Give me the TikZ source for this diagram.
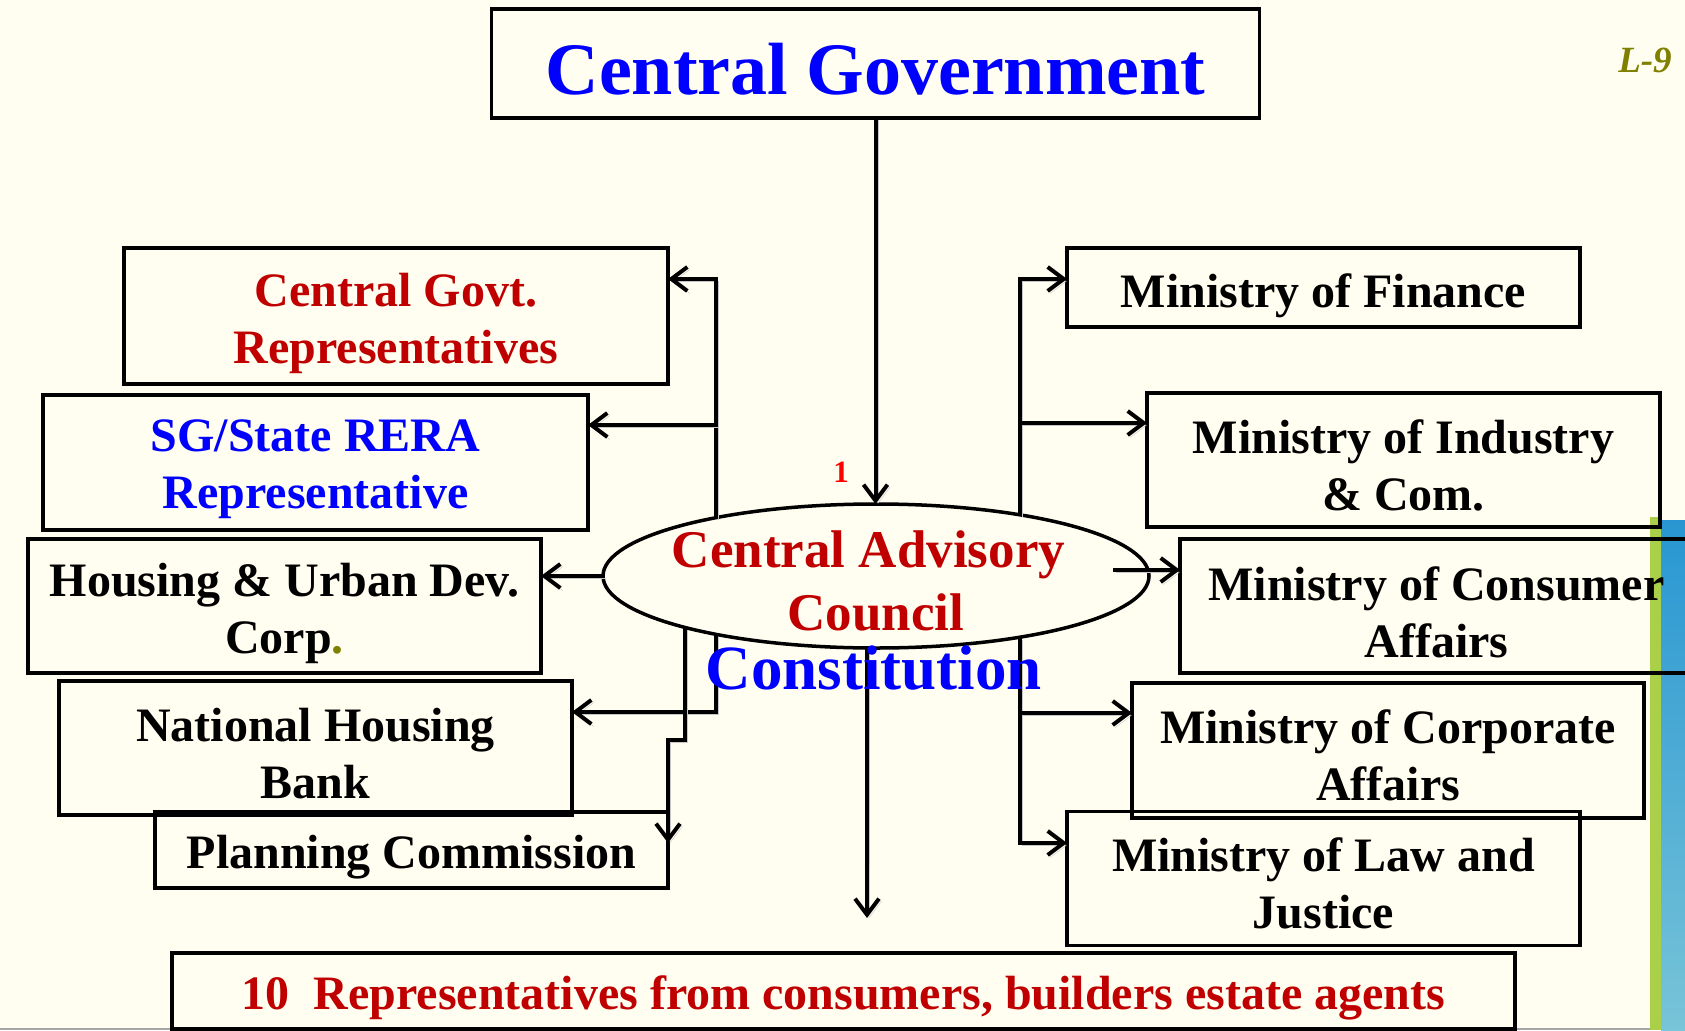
\documentclass[tikz,border=0pt]{standalone}
\usepackage{fontspec}
\setmainfont{Liberation Serif}
\usetikzlibrary{arrows.meta,shapes.geometric,calc}
\definecolor{bgcream}{RGB}{255,254,240}
\definecolor{darkred}{RGB}{192,0,0}
\definecolor{pureblue}{RGB}{0,0,255}
\definecolor{brightred}{RGB}{255,0,0}
\definecolor{olivec}{RGB}{128,128,0}
\definecolor{stripegreen}{RGB}{170,208,74}
\definecolor{stripeblue}{RGB}{40,150,210}
\definecolor{stripelight}{RGB}{236,240,196}
\definecolor{stripebot}{RGB}{120,196,216}
\begin{document}
\begin{tikzpicture}[x=1pt,y=-1pt,
  box/.style={draw=black, line width=3.5pt, rectangle, inner sep=0pt, outer sep=0pt},
  txt/.style={font=\bfseries\fontsize{48}{57}\selectfont, align=center, inner sep=0pt},
  conn/.style={line width=4pt, -{Straight Barb[length=16pt,width=24pt,line width=4pt]},
    preaction={draw=black!22, transform canvas={shift={(2.5pt,-2.5pt)}}}}
]
\useasboundingbox[fill=bgcream] (0,0) rectangle (1685,1030);
% right decorative stripes
\fill[stripegreen] (1650,517) rectangle (1661,1030);
\shade[top color=stripeblue, middle color=stripelight, bottom color=stripebot] (1661,520) rectangle (1685,1030);
\draw[black!35, line width=2pt] (0,1029) -- (1650,1029);

% boxes
\node[box, minimum width=768pt, minimum height=109pt] (cg) at (875.5,63.5) {};
\node[box, minimum width=544pt, minimum height=136pt] (cgr) at (396,316) {};
\node[box, minimum width=545pt, minimum height=135pt] (sg) at (315.5,462.5) {};
\node[box, minimum width=513pt, minimum height=134pt] (hud) at (284.5,606) {};
\node[box, minimum width=513pt, minimum height=134pt] (nhb) at (315.5,748) {};
\node[box, minimum width=513pt, minimum height=76pt] (pc) at (411.5,850) {};
\node[box, minimum width=1343pt, minimum height=76pt] (bot) at (843.5,991) {};
\node[box, minimum width=513pt, minimum height=79pt] (fin) at (1323.5,287.5) {};
\node[box, minimum width=513pt, minimum height=134pt] (ind) at (1403.5,460) {};
\node[box, minimum width=513pt, minimum height=134pt] (con) at (1436.5,606) {};
\node[box, minimum width=512pt, minimum height=135pt] (corp) at (1388,750.5) {};
\node[box, minimum width=513pt, minimum height=134pt] (law) at (1323.5,878.5) {};
\node[draw=black, ellipse, line width=3.5pt, minimum width=546pt, minimum height=144pt, inner sep=0pt, outer sep=0pt] (ell) at (876,576) {};

% texts
\node[txt, font=\bfseries\fontsize{74}{80}\selectfont, text=pureblue] (cgT) at ([yshift=-6pt]cg.center) {Central Government};
\node[txt, text=darkred] (cgrT) at ([yshift=-7pt]cgr.center) {Central Govt.\\Representatives};
\node[txt, text=pureblue] (sgT) at ([yshift=-7pt]sg.center) {SG/State RERA\\Representative};
\node[txt] (hudT) at ([yshift=-7pt]hud.center) {Housing \& Urban Dev.\\Corp{\color{olivec}.}};
\node[txt] (nhbT) at ([yshift=-6pt]nhb.center) {National Housing\\Bank};
\node[txt] (pcT) at ([yshift=-7pt]pc.center) {Planning Commission};
\node[txt, text=darkred] (botT) at ([yshift=-7pt]bot.center) {10\ \ Representatives from consumers, builders estate agents};
\node[txt] (finT) at ([yshift=-8pt]fin.center) {Ministry of Finance};
\node[txt] (indT) at ([yshift=-5pt]ind.center) {Ministry of Industry\\\& Com.};
\node[txt] (conT) at ([yshift=-6pt]con.center) {Ministry of Consumer\\Affairs};
\node[txt] (corpT) at ([yshift=-5pt]corp.center) {Ministry of Corporate\\Affairs};
\node[txt] (lawT) at ([yshift=-5pt]law.center) {Ministry of Law and\\Justice};
\node[txt, font=\bfseries\fontsize{53}{63}\selectfont, text=darkred] (ellT) at ([yshift=-4.5pt]ell.center) {Central Advisory\kern15pt\\Council};
\node[txt, font=\bfseries\fontsize{31}{34}\selectfont, text=brightred] (one) at (841,472) {1};
\node[txt, font=\bfseries\itshape\fontsize{37}{40}\selectfont, text=olivec] (l9) at (1645,60) {L-9};

% helper coordinates
\coordinate (sgA) at ([yshift=37.5pt]sg.east);
\coordinate (indA) at ([yshift=37pt]ind.west);
\coordinate (corpA) at ([yshift=37.5pt]corp.west);
\coordinate (rs) at ([xshift=-36pt,yshift=6pt]ell.east);
\coordinate (bt) at (867,918);

% connectors
\draw[conn] (cg.south) -- (cg.south |- ell.north);
\draw[conn] (ell.160) |- ([yshift=37pt]cgr.east);
\draw[conn] (sgA -| ell.160) -- (sgA);
\draw[conn] (ell.west) -- (ell.west -| hud.east);
\draw[conn] (ell.200) |- ([yshift=36pt]nhb.east);
\draw[conn] (ell.195) |- ([yshift=110pt]pc.east) -- ([yshift=7pt]pc.east);
\draw[conn] (ell.23) |- ([yshift=8.5pt]fin.west);
\draw[conn] (indA -| ell.23) -- (indA);
\draw[conn] (rs) -- (rs -| con.west);
\draw[conn] (ell.337) |- ([yshift=35.5pt]law.west);
\draw[conn] (corpA -| ell.337) -- (corpA);
\draw[conn] (ell.263) -- (bt);

\node[txt, font=\bfseries\fontsize{63}{68}\selectfont, text=pureblue] (constT) at (874,668.5) {Constitution};
\end{tikzpicture}
\end{document}
